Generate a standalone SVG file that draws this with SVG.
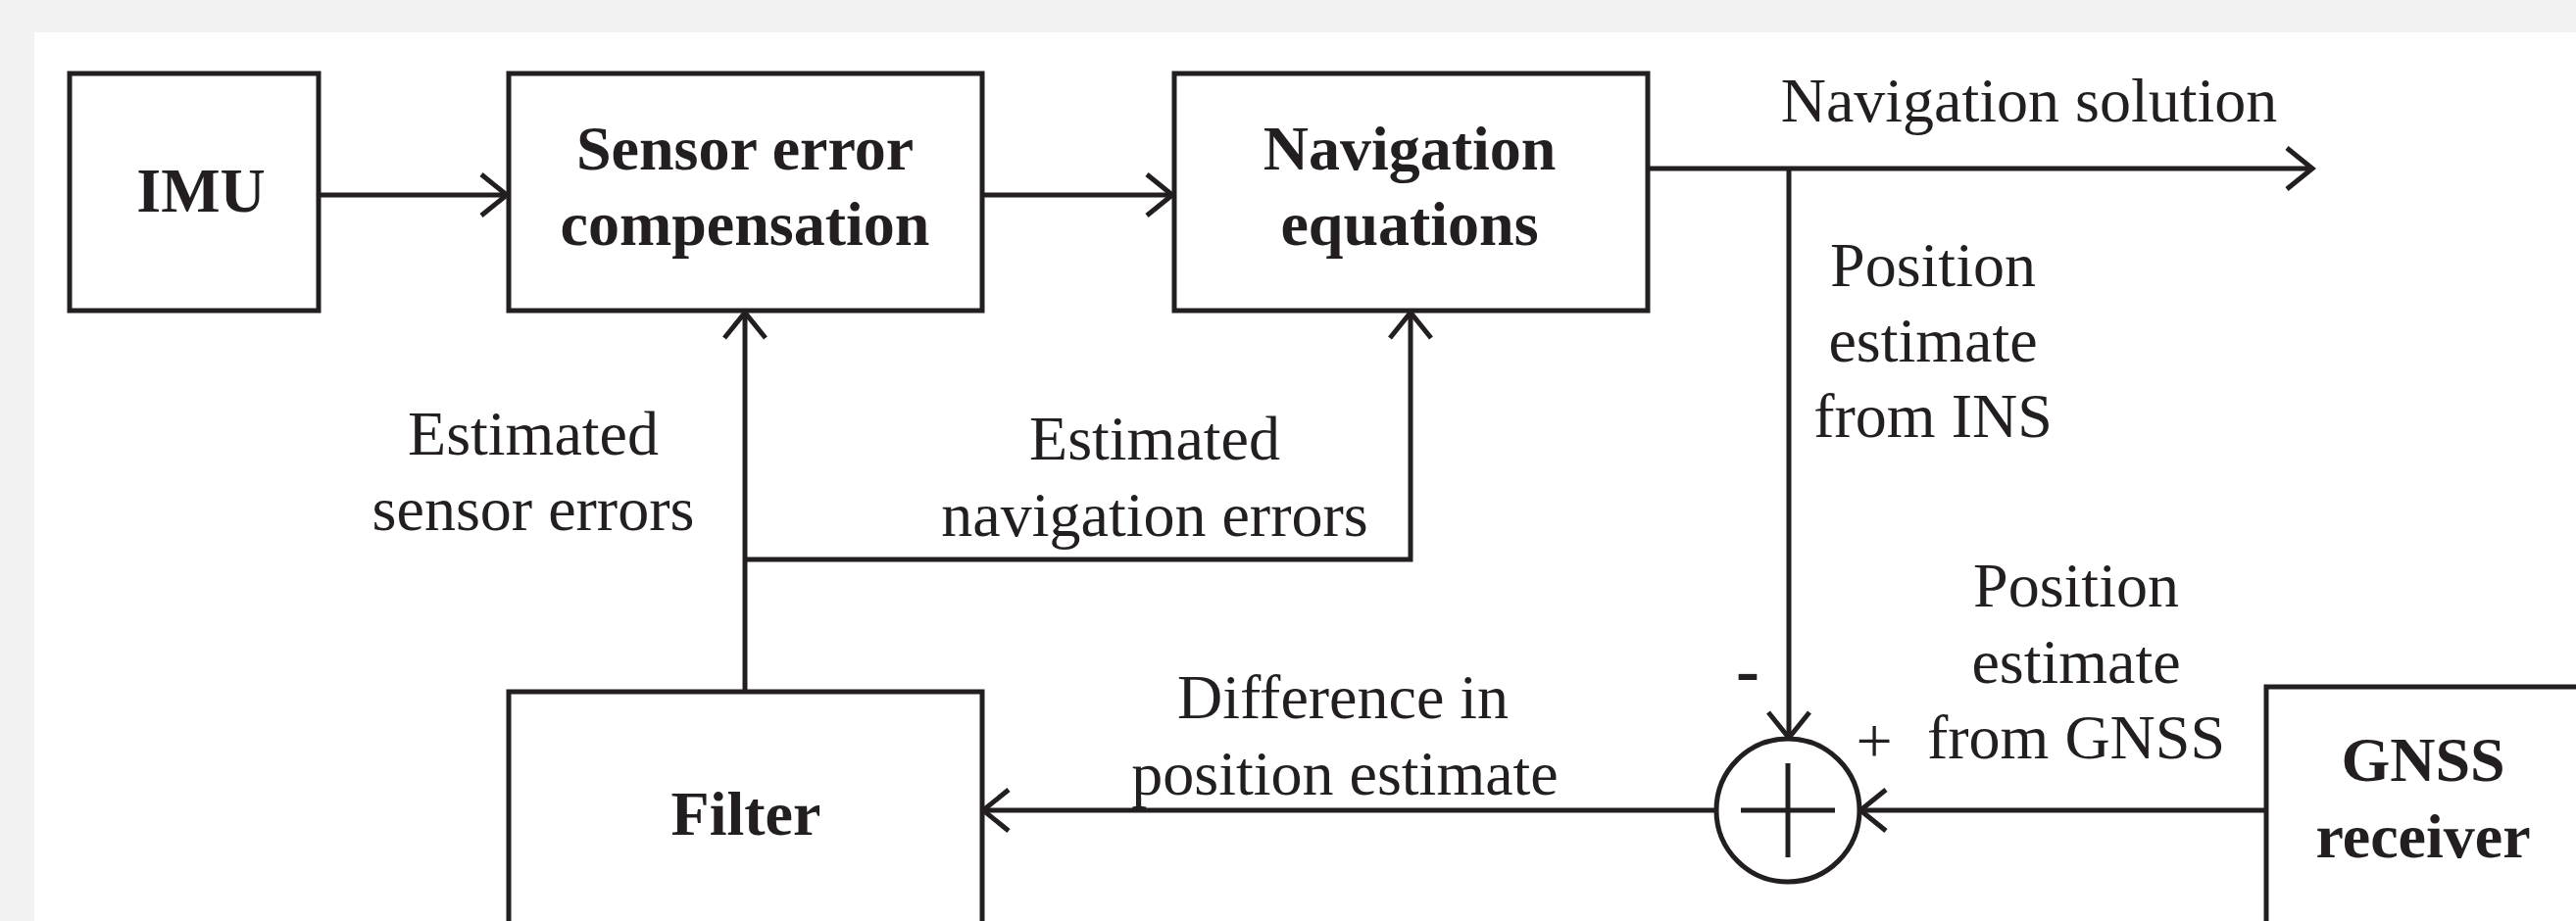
<svg xmlns="http://www.w3.org/2000/svg" width="2628" height="940" viewBox="0 0 2628 940">
  <style>
    .box { fill: #ffffff; stroke: #231f20; stroke-width: 5; }
    .wire { fill: none; stroke: #231f20; stroke-width: 5; }
    .title { font-family: "Liberation Serif", "Times New Roman", serif; font-size: 64px; font-weight: bold; fill: #231f20; text-anchor: middle; }
    .label { font-family: "Liberation Serif", "Times New Roman", serif; font-size: 64px; fill: #231f20; text-anchor: middle; }
  </style>
  <defs>
    <marker id="arrow" viewBox="-32 -26 38 52" refX="0" refY="0" markerWidth="38" markerHeight="52" markerUnits="userSpaceOnUse" orient="auto" overflow="visible">
      <path d="M -26 -21 L 0 0 L -26 21" fill="none" stroke="#231f20" stroke-width="5" stroke-linejoin="miter"/>
    </marker>
  </defs>

  <!-- page background and white sheet -->
  <rect x="0" y="0" width="2628" height="940" fill="#f2f2f2"/>
  <rect x="35" y="33" width="2593" height="907" fill="#ffffff"/>

  <!-- connectors -->
  <g id="connectors">
    <path class="wire" d="M 327 199 H 517" marker-end="url(#arrow)"/>
    <path class="wire" d="M 1003 199 H 1196" marker-end="url(#arrow)"/>
    <path class="wire" d="M 1682 172 H 2359" marker-end="url(#arrow)"/>
    <path class="wire" d="M 1825 172 V 753" marker-end="url(#arrow)"/>
    <path class="wire" d="M 760 705 V 319" marker-end="url(#arrow)"/>
    <path class="wire" d="M 760 571 H 1439 V 319" marker-end="url(#arrow)"/>
    <path class="wire" d="M 1751 827 H 1003" marker-end="url(#arrow)"/>
    <path class="wire" d="M 2311 827 H 1898" marker-end="url(#arrow)"/>
  </g>

  <!-- connector labels -->
  <g id="labels">
    <text class="label" x="2070" y="124">Navigation solution</text>
    <text class="label" x="1972" y="292">Position</text>
    <text class="label" x="1972" y="369">estimate</text>
    <text class="label" x="1972" y="446">from INS</text>
    <text class="label" x="544" y="464">Estimated</text>
    <text class="label" x="544" y="541">sensor errors</text>
    <text class="label" x="1178" y="469">Estimated</text>
    <text class="label" x="1178" y="547">navigation errors</text>
    <text class="label" x="1370" y="733">Difference in</text>
    <text class="label" x="1372" y="811">position estimate</text>
    <text class="label" x="2118" y="619">Position</text>
    <text class="label" x="2118" y="697">estimate</text>
    <text class="label" x="2118" y="774">from GNSS</text>
    <text class="title" x="1783" y="708" style="font-size:72px">-</text>
    <text class="label" x="1912" y="778" style="font-size:66px">+</text>
  </g>

  <g id="imu">
    <rect class="box" x="71" y="75" width="254" height="242"/>
    <text class="title" x="205" y="216">IMU</text>
  </g>

  <g id="sensor-error-compensation">
    <rect class="box" x="519" y="75" width="483" height="242"/>
    <text class="title" x="760" y="173">Sensor error</text>
    <text class="title" x="760" y="250">compensation</text>
  </g>

  <g id="navigation-equations">
    <rect class="box" x="1198" y="75" width="483" height="242"/>
    <text class="title" x="1438" y="173">Navigation</text>
    <text class="title" x="1438" y="250">equations</text>
  </g>

  <g id="filter">
    <rect class="box" x="519" y="706" width="483" height="260"/>
    <text class="title" x="761" y="852">Filter</text>
  </g>

  <g id="gnss-receiver">
    <rect class="box" x="2312" y="701" width="340" height="260"/>
    <text class="title" x="2472" y="797">GNSS</text>
    <text class="title" x="2472" y="875">receiver</text>
  </g>

  <g id="summing-junction">
    <circle class="box" cx="1824" cy="827" r="73"/>
    <path class="wire" d="M 1776 827 H 1872 M 1824 779 V 875"/>
  </g>
</svg>
